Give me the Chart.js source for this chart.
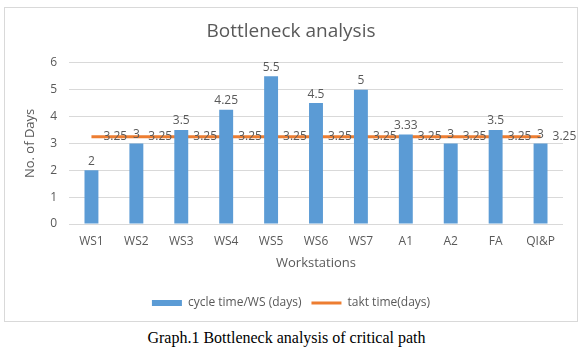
<!DOCTYPE html>
<html>
<head>
<meta charset="utf-8">
<script src="https://cdn.jsdelivr.net/npm/chart.js@4.4.1/dist/chart.umd.min.js"></script>
<style>
  body { margin: 0; background: #fff; width: 583px; height: 352px; position: relative; }
  #box { position: absolute; left: 4px; top: 7px; width: 574px; height: 315px; border: 1px solid #d9d9d9; box-sizing: border-box; }
  #caption { position: absolute; left: -5px; width: 583px; top: 329px; text-align: center; font: 16px "Liberation Serif", serif; color: #000; }
</style>
</head>
<body>
<div id="box"><canvas id="myChart"></canvas></div>
<div id="caption">Graph.1 Bottleneck analysis of critical path</div>
<script>
const stations = ['WS1', 'WS2', 'WS3', 'WS4', 'WS5', 'WS6', 'WS7', 'A1', 'A2', 'FA', 'QI&P'];
const cycleTime = [2, 3, 3.5, 4.25, 5.5, 4.5, 5, 3.33, 3, 3.5, 3];
const taktTime = [3.25, 3.25, 3.25, 3.25, 3.25, 3.25, 3.25, 3.25, 3.25, 3.25, 3.25];
const yTicks = [0, 1, 2, 3, 4, 5, 6];

const textColor = '#595959';
const fontName = '"Open Sans"';

// value labels like the Excel data labels
const valueLabels = {
  id: 'valueLabels',
  afterDatasetsDraw(chart) {
    const ctx = chart.ctx;
    ctx.save();
    ctx.font = '12px ' + fontName;
    ctx.fillStyle = textColor;
    chart.data.datasets.forEach((ds, i) => {
      chart.getDatasetMeta(i).data.forEach((el, j) => {
        const v = ds.data[j];
        if (ds.type === 'line') {
          ctx.textAlign = 'left';
          ctx.textBaseline = 'middle';
          ctx.fillText(v, el.x + 12, el.y);
        } else {
          ctx.textAlign = 'center';
          ctx.textBaseline = 'bottom';
          ctx.fillText(v, el.x, el.y - 3);
        }
      });
    });
    ctx.restore();
  }
};

const ctx = document.getElementById('myChart').getContext('2d');
const myChart = new Chart(ctx, {
  data: {
    labels: stations,
    datasets: [{
      type: 'bar',
      label: 'cycle time/WS (days)',
      data: cycleTime,
      backgroundColor: '#5B9BD5',
      borderWidth: 0,
      barPercentage: 0.31,
      categoryPercentage: 1,
      pointStyle: 'rect'
    },
    {
      type: 'line',
      label: 'takt time(days)',
      data: taktTime,
      borderColor: '#ED7D31',
      backgroundColor: '#ED7D31',
      borderWidth: 3,
      pointRadius: 0,
      pointStyle: 'line'
    }]
  },
  options: {
    responsive: true,
    maintainAspectRatio: false,
    animation: false,
    layout: { padding: { left: 14, right: 14, top: 0, bottom: 2 } },
    plugins: {
      tooltip: { enabled: false },
      title: {
        display: true,
        text: 'Bottleneck analysis',
        color: textColor,
        font: { family: fontName, size: 19, weight: 'normal' },
        padding: { top: 12, bottom: 20 }
      },
      legend: {
        position: 'bottom',
        labels: {
          color: textColor,
          font: { family: fontName, size: 12 },
          usePointStyle: true,
          pointStyleWidth: 30,
          boxHeight: 6,
          padding: 10,
          sort: (a, b) => a.datasetIndex - b.datasetIndex,
          generateLabels(chart) {
            const items = Chart.defaults.plugins.legend.labels.generateLabels(chart);
            items.forEach(it => {
              if (it.pointStyle === 'line') {
                it.lineWidth = 3;
                it.strokeStyle = '#ED7D31';
              } else {
                it.lineWidth = 0;
              }
            });
            return items;
          }
        }
      }
    },
    scales: {
      x: {
        grid: { display: false, drawTicks: false },
        border: { display: false },
        ticks: { color: textColor, font: { family: fontName, size: 12 }, padding: 10 },
        title: {
          display: true,
          text: 'Workstations',
          color: textColor,
          font: { family: fontName, size: 13 },
          padding: { top: 0, bottom: 16 }
        },
        afterFit(scale) { scale.height = 63; }
      },
      y: {
        min: 0,
        max: 6,
        grid: { color: '#d9d9d9', drawTicks: false },
        border: { display: false },
        afterBuildTicks(scale) { scale.ticks = yTicks.map(v => ({ value: v })); },
        ticks: { color: textColor, font: { family: fontName, size: 12 }, padding: 12 },
        title: {
          display: true,
          text: 'No. of Days',
          color: textColor,
          font: { family: fontName, size: 13 },
          padding: { top: 3, bottom: 0 }
        },
        afterFit(scale) { scale.width = 50; }
      }
    }
  },
  plugins: [valueLabels]
});
</script>
</body>
</html>
